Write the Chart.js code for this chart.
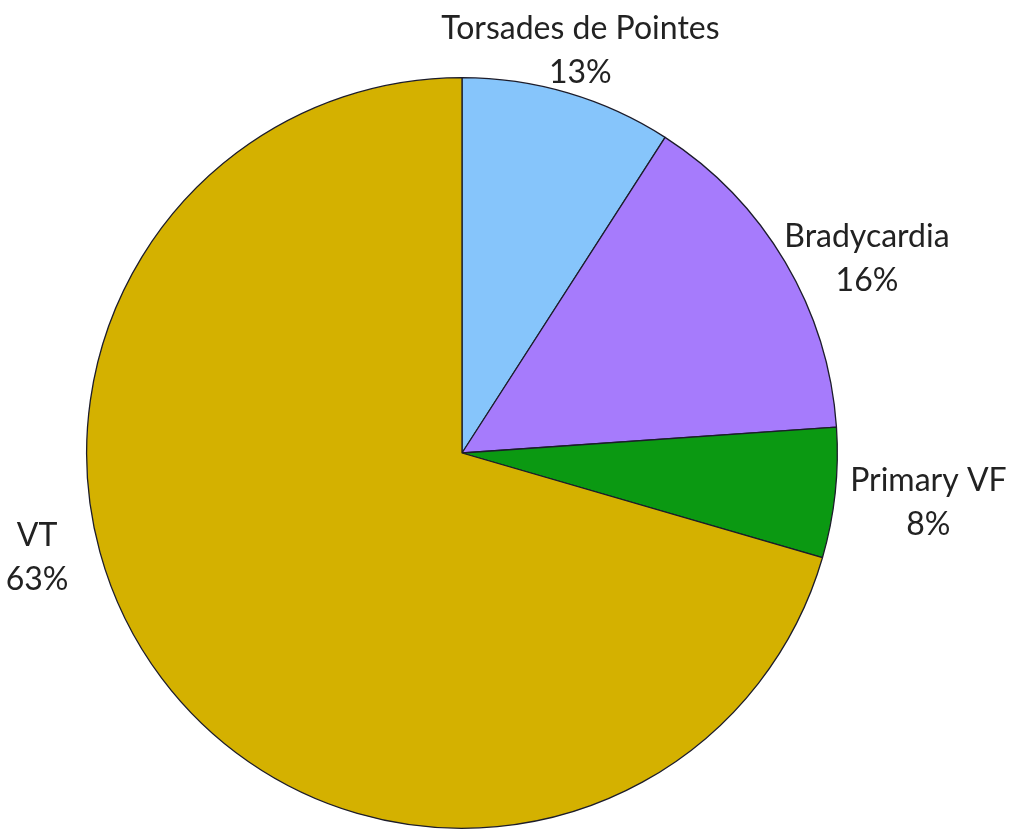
<!DOCTYPE html>
<html>
<head>
<meta charset="utf-8">
<script src="https://cdn.jsdelivr.net/npm/chart.js@4.4.1/dist/chart.umd.min.js"></script>
<style>
  html, body { margin: 0; padding: 0; background: #fff; }
  #wrap { width: 1018px; height: 831px; position: relative; }
</style>
</head>
<body>
<div id="wrap"><canvas id="pie"></canvas></div>
<script>
const categories = ["Torsades de Pointes", "Bradycardia", "Primary VF", "VT"];
const sliceValues = [9.1, 14.8, 5.6, 70.5];       // share of the circle as drawn
const percentLabels = ["13%", "16%", "8%", "63%"]; // printed labels
const sliceColors = ["#86C5FB", "#A67BFC", "#0B9912", "#D4B100"];

// per-label placement tweaks (angle shift in degrees, gap from the rim)
const labelTweaks = [
  { turn: 0, gap: 9 },
  { turn: 5, gap: -5 },
  { turn: 0, gap: 15 },
  { turn: 23, gap: 30 }
];

const FONT = "32px Lato";
const LINE_H = 44;

const outsideLabels = {
  id: "outsideLabels",
  afterDatasetsDraw(chart){
    const ctx = chart.ctx;
    const arcs = chart.getDatasetMeta(0).data;
    ctx.save();
    ctx.font = FONT;
    ctx.fillStyle = "#222";
    ctx.textAlign = "center";
    ctx.textBaseline = "middle";
    arcs.forEach((arc, i) => {
      const p = arc.getProps(["x", "y", "startAngle", "endAngle", "outerRadius"], true);
      const tw = labelTweaks[i];
      const mid = (p.startAngle + p.endAngle) / 2 + tw.turn * Math.PI / 180;
      const lines = [categories[i], percentLabels[i]];
      const w = Math.max(...lines.map(l => ctx.measureText(l).width)) / 2;
      const h = (lines.length - 1) * LINE_H / 2 + 12;
      const c = Math.abs(Math.cos(mid)), s = Math.abs(Math.sin(mid));
      const edge = Math.min(c > 1e-6 ? w / c : Infinity, s > 1e-6 ? h / s : Infinity);
      const d = p.outerRadius + tw.gap + edge;
      const cx = p.x + Math.cos(mid) * d;
      const cy = p.y + Math.sin(mid) * d;
      lines.forEach((l, k) => {
        ctx.fillText(l, cx, cy + (k - (lines.length - 1) / 2) * LINE_H);
      });
    });
    ctx.restore();
  }
};

new Chart(document.getElementById("pie"), {
  type: "pie",
  data: {
    labels: categories,
    datasets: [{
      data: sliceValues,
      backgroundColor: sliceColors,
      borderColor: "#1c1c2a",
      borderWidth: 1.3
    }]
  },
  options: {
    responsive: true,
    maintainAspectRatio: false,
    animation: false,
    layout: { padding: { left: 86, right: 180, top: 77, bottom: 2 } },
    plugins: {
      legend: { display: false },
      tooltip: { enabled: false }
    }
  },
  plugins: [outsideLabels]
});
</script>
</body>
</html>
